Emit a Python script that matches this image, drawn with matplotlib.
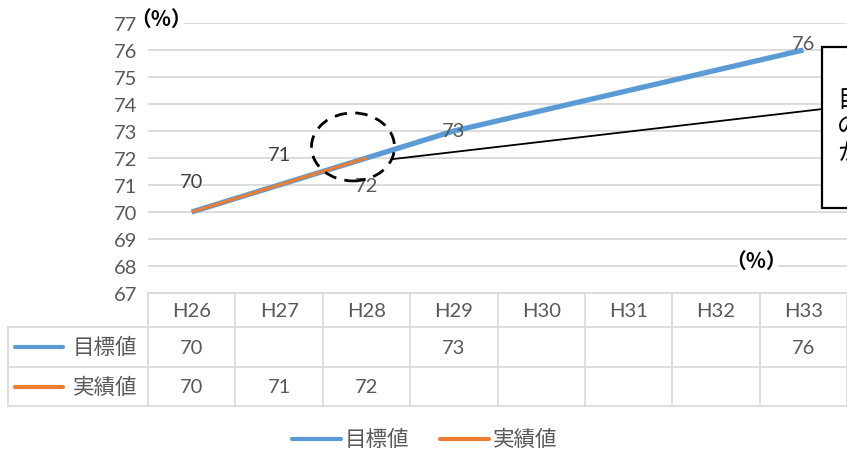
import numpy as np
import matplotlib
matplotlib.use("Agg")
import matplotlib.pyplot as plt
from matplotlib.patches import Ellipse, Rectangle
from matplotlib.transforms import blended_transform_factory
from matplotlib.lines import Line2D

plt.rcParams['font.family'] = ['Lato', 'Noto Sans CJK JP', 'DejaVu Sans']

# ---- data ----
years = ["H26", "H27", "H28", "H29", "H30", "H31", "H32", "H33"]
target = [70, None, None, 73, None, None, None, 76]   # 目標値
actual = [70, 71, 72, None, None, None, None, None]    # 実績値
yticks = list(range(67, 78))
series_names = ["目標値", "実績値"]

BLUE = "#5b9bd5"
ORANGE = "#ed7d31"
GRID = "#d9d9d9"
TXT = "#595959"

W, H = 847, 452
fig = plt.figure(figsize=(W / 100, H / 100), dpi=100)
ax = fig.add_axes([148 / W, (H - 294) / H, (W - 148) / W, 270 / H])

x = np.arange(len(years))
ax.set_xlim(-0.5, len(years) - 0.5)
ax.set_ylim(min(yticks), max(yticks))
ax.set_yticks(yticks)
ax.set_xticks([])
ax.tick_params(axis="y", length=0, pad=8, labelsize=14.5, labelcolor=TXT)
for s in ax.spines.values():
    s.set_visible(False)
for t in yticks:
    ax.axhline(t, color=GRID, lw=1.3, zorder=0)

# series: draw through the points that have values
def valid(vals):
    xs = [i for i, v in enumerate(vals) if v is not None]
    return xs, [vals[i] for i in xs]

tx, ty = valid(target)
ax_, ay = valid(actual)
ax.plot(tx, ty, color=BLUE, lw=3.8, solid_capstyle="butt", zorder=3)
ax.plot(ax_, ay, color=ORANGE, lw=2.2, solid_capstyle="butt", zorder=4)

# data labels
lab_kw = dict(ha="center", va="center", fontsize=14.5, textcoords="offset pixels", zorder=6)
ax.annotate(f"{actual[0]}", (0, actual[0]), xytext=(0, 30), color="#404040", **lab_kw)
ax.annotate(f"{actual[1]}", (1, actual[1]), xytext=(0, 30), color="#404040", **lab_kw)
ax.annotate(f"{actual[2]}", (2, actual[2]), xytext=(0, -28), color=TXT, **lab_kw)
ax.annotate(f"{target[3]}", (3, target[3]), xytext=(0, 0), color=TXT, **lab_kw)
ax.annotate(f"{target[7]}", (7, target[7]), xytext=(0, 6), color=TXT, **lab_kw)

# dashed highlight and callout
ax.add_patch(Ellipse((1.846, 72.41), 0.95, 2.52, fill=False, ec="black", lw=2.0,
                     ls=(0, (4.5, 3)), zorder=7))
ax.plot([2.303, 7.21], [71.96, 73.81], color="black", lw=1.3, zorder=7)
ax.add_patch(Rectangle((7.21, 70.15), 1.2, 5.96, fc="white", ec="black", lw=1.6,
                       clip_on=False, zorder=8))
ax.text(7.39, 73.19, "目\nの\nか", fontsize=17, va="center", ha="left",
        linespacing=1.2, color="black", clip_on=False, zorder=9,
        family=["Noto Sans CJK JP"])

# unit labels (a small white patch keeps the gridline out from under each)
def px_rect(x0, y0, x1, y1):
    fig.add_artist(Rectangle((x0 / W, 1 - y1 / H), (x1 - x0) / W, (y1 - y0) / H,
                             transform=fig.transFigure, fc="white", ec="none", zorder=5))

unit_kw = dict(fontsize=15, fontweight="bold", ha="center", va="center",
               family=["Noto Sans CJK JP"], zorder=10)
px_rect(144, 12, 184, 30)
fig.text(161 / W, 1 - 19 / H, "（%）", **unit_kw)
px_rect(738, 252, 778, 272)
fig.text(756 / W, 1 - 261 / H, "（%）", **unit_kw)

# data table below the plot
bt = blended_transform_factory(ax.transData, ax.transAxes)
rows_y = [0.0, -0.1259, -0.274, -0.4185]
left = -2.102
right = len(years) - 0.5
tl = dict(color=GRID, lw=1.2, transform=bt, clip_on=False, zorder=1)
ax.plot([-0.5, right], [rows_y[0]] * 2, **tl)
for yy in rows_y[1:]:
    ax.plot([left, right], [yy] * 2, **tl)
ax.plot([left, left], [rows_y[1], rows_y[3]], **tl)
for k in range(len(years) + 1):
    ax.plot([k - 0.5, k - 0.5], [rows_y[0], rows_y[3]], **tl)

cell_kw = dict(transform=bt, ha="center", va="center", fontsize=14.5, color=TXT, clip_on=False)
for i, yr in enumerate(years):
    ax.text(i, -0.063, yr, **cell_kw)
for i, v in enumerate(target):
    if v is not None:
        ax.text(i, -0.2, f"{v}", **cell_kw)
for i, v in enumerate(actual):
    if v is not None:
        ax.text(i, -0.348, f"{v}", **cell_kw)

for name, col, yy in [(series_names[0], BLUE, -0.2), (series_names[1], ORANGE, -0.348)]:
    ax.plot([-2.02, -1.473], [yy, yy], color=col, lw=3, transform=bt, clip_on=False,
            solid_capstyle="round")
    ax.text(-0.62, yy, name, transform=bt, ha="right", va="center", fontsize=15.5,
            color=TXT, clip_on=False, family=["Noto Sans CJK JP"])

# legend at the bottom
ly = 1 - 440 / H
for name, col, x0, x1, tx0 in [(series_names[0], BLUE, 292, 341, 345),
                                (series_names[1], ORANGE, 440, 489, 493)]:
    fig.add_artist(Line2D([x0 / W, x1 / W], [ly, ly], color=col, lw=3,
                          transform=fig.transFigure, solid_capstyle="round"))
    fig.text(tx0 / W, ly, name, ha="left", va="center", fontsize=15.5, color=TXT,
             family=["Noto Sans CJK JP"])

fig.savefig("out.png", dpi=100)
